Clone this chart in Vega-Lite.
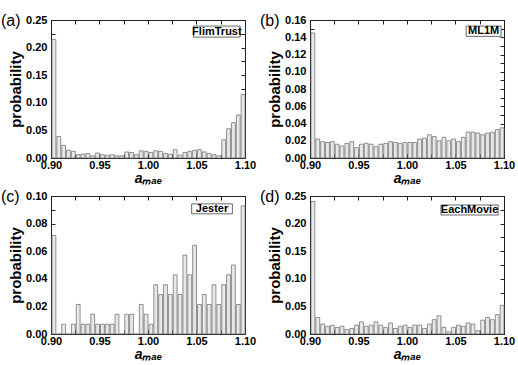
{
  "$schema": "https://vega.github.io/schema/vega-lite/v6.json",
  "padding": {"left": 0, "top": 12, "right": 0, "bottom": 0},
  "background": "white",
  "datasets": {
    "a": [
      {"x0":0.900,"x1":0.905,"p":0.215},{"x0":0.905,"x1":0.910,"p":0.039},{"x0":0.910,"x1":0.915,"p":0.023},{"x0":0.915,"x1":0.920,"p":0.014},
      {"x0":0.920,"x1":0.925,"p":0.012},{"x0":0.925,"x1":0.930,"p":0.006},{"x0":0.930,"x1":0.935,"p":0.007},{"x0":0.935,"x1":0.940,"p":0.008},
      {"x0":0.940,"x1":0.945,"p":0.004},{"x0":0.945,"x1":0.950,"p":0.009},{"x0":0.950,"x1":0.955,"p":0.006},{"x0":0.955,"x1":0.960,"p":0.005},
      {"x0":0.960,"x1":0.965,"p":0.006},{"x0":0.965,"x1":0.970,"p":0.004},{"x0":0.970,"x1":0.975,"p":0.004},{"x0":0.975,"x1":0.980,"p":0.011},
      {"x0":0.980,"x1":0.985,"p":0.010},{"x0":0.985,"x1":0.990,"p":0.006},{"x0":0.990,"x1":0.995,"p":0.013},{"x0":0.995,"x1":1.000,"p":0.012},
      {"x0":1.000,"x1":1.005,"p":0.010},{"x0":1.005,"x1":1.010,"p":0.013},{"x0":1.010,"x1":1.015,"p":0.012},{"x0":1.015,"x1":1.020,"p":0.008},
      {"x0":1.020,"x1":1.025,"p":0.007},{"x0":1.025,"x1":1.030,"p":0.015},{"x0":1.030,"x1":1.035,"p":0.005},{"x0":1.035,"x1":1.040,"p":0.010},
      {"x0":1.040,"x1":1.045,"p":0.012},{"x0":1.045,"x1":1.050,"p":0.014},{"x0":1.050,"x1":1.055,"p":0.015},{"x0":1.055,"x1":1.060,"p":0.011},
      {"x0":1.060,"x1":1.065,"p":0.008},{"x0":1.065,"x1":1.070,"p":0.006},{"x0":1.070,"x1":1.075,"p":0.004},{"x0":1.075,"x1":1.080,"p":0.033},
      {"x0":1.080,"x1":1.085,"p":0.053},{"x0":1.085,"x1":1.090,"p":0.064},{"x0":1.090,"x1":1.095,"p":0.078},{"x0":1.095,"x1":1.100,"p":0.115}
    ],
    "b": [
      {"x0":0.900,"x1":0.905,"p":0.145},{"x0":0.905,"x1":0.910,"p":0.022},{"x0":0.910,"x1":0.915,"p":0.019},{"x0":0.915,"x1":0.920,"p":0.018},
      {"x0":0.920,"x1":0.925,"p":0.019},{"x0":0.925,"x1":0.930,"p":0.016},{"x0":0.930,"x1":0.935,"p":0.014},{"x0":0.935,"x1":0.940,"p":0.017},
      {"x0":0.940,"x1":0.945,"p":0.019},{"x0":0.945,"x1":0.950,"p":0.012},{"x0":0.950,"x1":0.955,"p":0.016},{"x0":0.955,"x1":0.960,"p":0.017},
      {"x0":0.960,"x1":0.965,"p":0.016},{"x0":0.965,"x1":0.970,"p":0.013},{"x0":0.970,"x1":0.975,"p":0.016},{"x0":0.975,"x1":0.980,"p":0.017},
      {"x0":0.980,"x1":0.985,"p":0.019},{"x0":0.985,"x1":0.990,"p":0.018},{"x0":0.990,"x1":0.995,"p":0.017},{"x0":0.995,"x1":1.000,"p":0.018},
      {"x0":1.000,"x1":1.005,"p":0.018},{"x0":1.005,"x1":1.010,"p":0.018},{"x0":1.010,"x1":1.015,"p":0.022},{"x0":1.015,"x1":1.020,"p":0.023},
      {"x0":1.020,"x1":1.025,"p":0.027},{"x0":1.025,"x1":1.030,"p":0.025},{"x0":1.030,"x1":1.035,"p":0.020},{"x0":1.035,"x1":1.040,"p":0.024},
      {"x0":1.040,"x1":1.045,"p":0.020},{"x0":1.045,"x1":1.050,"p":0.022},{"x0":1.050,"x1":1.055,"p":0.019},{"x0":1.055,"x1":1.060,"p":0.024},
      {"x0":1.060,"x1":1.065,"p":0.030},{"x0":1.065,"x1":1.070,"p":0.030},{"x0":1.070,"x1":1.075,"p":0.029},{"x0":1.075,"x1":1.080,"p":0.027},
      {"x0":1.080,"x1":1.085,"p":0.029},{"x0":1.085,"x1":1.090,"p":0.030},{"x0":1.090,"x1":1.095,"p":0.033},{"x0":1.095,"x1":1.100,"p":0.035}
    ],
    "c": [
      {"x0":0.900,"x1":0.905,"p":0.0714},{"x0":0.905,"x1":0.910,"p":0.0},{"x0":0.910,"x1":0.915,"p":0.0071},{"x0":0.915,"x1":0.920,"p":0.0},
      {"x0":0.920,"x1":0.925,"p":0.0071},{"x0":0.925,"x1":0.930,"p":0.0214},{"x0":0.930,"x1":0.935,"p":0.0071},{"x0":0.935,"x1":0.940,"p":0.0071},
      {"x0":0.940,"x1":0.945,"p":0.0143},{"x0":0.945,"x1":0.950,"p":0.0071},{"x0":0.950,"x1":0.955,"p":0.0071},{"x0":0.955,"x1":0.960,"p":0.0071},
      {"x0":0.960,"x1":0.965,"p":0.0071},{"x0":0.965,"x1":0.970,"p":0.0143},{"x0":0.970,"x1":0.975,"p":0.0},{"x0":0.975,"x1":0.980,"p":0.0143},
      {"x0":0.980,"x1":0.985,"p":0.0143},{"x0":0.985,"x1":0.990,"p":0.0},{"x0":0.990,"x1":0.995,"p":0.0214},{"x0":0.995,"x1":1.000,"p":0.0143},
      {"x0":1.000,"x1":1.005,"p":0.0071},{"x0":1.005,"x1":1.010,"p":0.0357},{"x0":1.010,"x1":1.015,"p":0.0286},{"x0":1.015,"x1":1.020,"p":0.0357},
      {"x0":1.020,"x1":1.025,"p":0.0286},{"x0":1.025,"x1":1.030,"p":0.0429},{"x0":1.030,"x1":1.035,"p":0.0286},{"x0":1.035,"x1":1.040,"p":0.0571},
      {"x0":1.040,"x1":1.045,"p":0.0429},{"x0":1.045,"x1":1.050,"p":0.0643},{"x0":1.050,"x1":1.055,"p":0.0214},{"x0":1.055,"x1":1.060,"p":0.0286},
      {"x0":1.060,"x1":1.065,"p":0.0214},{"x0":1.065,"x1":1.070,"p":0.0357},{"x0":1.070,"x1":1.075,"p":0.0214},{"x0":1.075,"x1":1.080,"p":0.0357},
      {"x0":1.080,"x1":1.085,"p":0.0429},{"x0":1.085,"x1":1.090,"p":0.05},{"x0":1.090,"x1":1.095,"p":0.0214},{"x0":1.095,"x1":1.100,"p":0.0929}
    ],
    "d": [
      {"x0":0.900,"x1":0.905,"p":0.240},{"x0":0.905,"x1":0.910,"p":0.030},{"x0":0.910,"x1":0.915,"p":0.018},{"x0":0.915,"x1":0.920,"p":0.014},
      {"x0":0.920,"x1":0.925,"p":0.016},{"x0":0.925,"x1":0.930,"p":0.012},{"x0":0.930,"x1":0.935,"p":0.014},{"x0":0.935,"x1":0.940,"p":0.008},
      {"x0":0.940,"x1":0.945,"p":0.010},{"x0":0.945,"x1":0.950,"p":0.016},{"x0":0.950,"x1":0.955,"p":0.022},{"x0":0.955,"x1":0.960,"p":0.014},
      {"x0":0.960,"x1":0.965,"p":0.016},{"x0":0.965,"x1":0.970,"p":0.022},{"x0":0.970,"x1":0.975,"p":0.016},{"x0":0.975,"x1":0.980,"p":0.012},
      {"x0":0.980,"x1":0.985,"p":0.020},{"x0":0.985,"x1":0.990,"p":0.010},{"x0":0.990,"x1":0.995,"p":0.014},{"x0":0.995,"x1":1.000,"p":0.016},
      {"x0":1.000,"x1":1.005,"p":0.012},{"x0":1.005,"x1":1.010,"p":0.016},{"x0":1.010,"x1":1.015,"p":0.016},{"x0":1.015,"x1":1.020,"p":0.010},
      {"x0":1.020,"x1":1.025,"p":0.018},{"x0":1.025,"x1":1.030,"p":0.026},{"x0":1.030,"x1":1.035,"p":0.033},{"x0":1.035,"x1":1.040,"p":0.012},
      {"x0":1.040,"x1":1.045,"p":0.004},{"x0":1.045,"x1":1.050,"p":0.012},{"x0":1.050,"x1":1.055,"p":0.016},{"x0":1.055,"x1":1.060,"p":0.014},
      {"x0":1.060,"x1":1.065,"p":0.020},{"x0":1.065,"x1":1.070,"p":0.018},{"x0":1.070,"x1":1.075,"p":0.006},{"x0":1.075,"x1":1.080,"p":0.025},
      {"x0":1.080,"x1":1.085,"p":0.030},{"x0":1.085,"x1":1.090,"p":0.026},{"x0":1.090,"x1":1.095,"p":0.035},{"x0":1.095,"x1":1.100,"p":0.052}
    ]
  },
  "spacing": 2,
  "vconcat": [
    {"spacing": 2, "hconcat": [
      {
        "width": 194, "height": 138,
        "title": {"text": "(a)", "anchor": "start", "frame": "group", "dx": -50, "dy": 19},
        "resolve": {"axis": {"x": "independent", "y": "independent"}},
        "layer": [
          {"data": {"name": "a"}, "mark": {"type": "bar", "fill": "#e8e8e8", "stroke": "#666", "strokeWidth": 0.7},
           "encoding": {
             "x": {"field": "x0", "type": "quantitative", "bin": "binned", "scale": {"domain": [0.9, 1.1], "nice": false, "zero": false},
                   "axis": {"values": [0.9,0.925,0.95,0.975,1.0,1.025,1.05,1.075,1.1], "format": ".2f", "labelExpr": "(round(datum.value*1000)%50==0)?datum.label:''", "title": "aₘₐₑ"}},
             "x2": {"field": "x1"},
             "y": {"field": "p", "type": "quantitative", "scale": {"domain": [0, 0.25], "nice": false},
                   "axis": {"values": [0,0.025,0.05,0.075,0.1,0.125,0.15,0.175,0.2,0.225,0.25], "format": ".2f", "labelExpr": "(round(datum.value*1000)%50==0)?datum.label:''", "title": "probability"}}
           }},
          {"data": {"values": [{"label": "FlimTrust"}]}, "mark": {"type": "rect", "fill": "white", "stroke": "#444", "strokeWidth": 0.8},
           "encoding": {
             "x": {"datum": 1.047, "type": "quantitative", "axis": {"orient": "top", "labels": false, "title": null, "domain": false, "values": [0.9,0.925,0.95,0.975,1.0,1.025,1.05,1.075,1.1]}},
             "x2": {"datum": 1.095},
             "y": {"datum": 0.219, "type": "quantitative", "axis": {"orient": "right", "labels": false, "title": null, "domain": false, "values": [0,0.025,0.05,0.075,0.1,0.125,0.15,0.175,0.2,0.225,0.25]}},
             "y2": {"datum": 0.239}}},
          {"data": {"values": [{"label": "FlimTrust"}]}, "mark": {"type": "text", "fontWeight": "bold", "fontSize": 11, "font": "Liberation Sans", "color": "black"},
           "encoding": {"x": {"datum": 1.071, "type": "quantitative", "axis": null}, "y": {"datum": 0.229, "type": "quantitative", "axis": null}, "text": {"field": "label"}}}
        ]
      },
      {
        "width": 194, "height": 138,
        "title": {"text": "(b)", "anchor": "start", "frame": "group", "dx": -50, "dy": 19},
        "resolve": {"axis": {"x": "independent", "y": "independent"}},
        "layer": [
          {"data": {"name": "b"}, "mark": {"type": "bar", "fill": "#e8e8e8", "stroke": "#666", "strokeWidth": 0.7},
           "encoding": {
             "x": {"field": "x0", "type": "quantitative", "bin": "binned", "scale": {"domain": [0.9, 1.1], "nice": false, "zero": false},
                   "axis": {"values": [0.9,0.925,0.95,0.975,1.0,1.025,1.05,1.075,1.1], "format": ".2f", "labelExpr": "(round(datum.value*1000)%50==0)?datum.label:''", "title": "aₘₐₑ"}},
             "x2": {"field": "x1"},
             "y": {"field": "p", "type": "quantitative", "scale": {"domain": [0, 0.16], "nice": false},
                   "axis": {"values": [0,0.01,0.02,0.03,0.04,0.05,0.06,0.07,0.08,0.09,0.1,0.11,0.12,0.13,0.14,0.15,0.16], "format": ".2f", "labelExpr": "(round(datum.value*1000)%20==0)?datum.label:''", "title": "probability"}}
           }},
          {"data": {"values": [{"label": "ML1M"}]}, "mark": {"type": "rect", "fill": "white", "stroke": "#444", "strokeWidth": 0.8},
           "encoding": {
             "x": {"datum": 1.061, "type": "quantitative", "axis": {"orient": "top", "labels": false, "title": null, "domain": false, "values": [0.9,0.925,0.95,0.975,1.0,1.025,1.05,1.075,1.1]}},
             "x2": {"datum": 1.097},
             "y": {"datum": 0.141, "type": "quantitative", "axis": {"orient": "right", "labels": false, "title": null, "domain": false, "values": [0,0.01,0.02,0.03,0.04,0.05,0.06,0.07,0.08,0.09,0.1,0.11,0.12,0.13,0.14,0.15,0.16]}},
             "y2": {"datum": 0.153}}},
          {"data": {"values": [{"label": "ML1M"}]}, "mark": {"type": "text", "fontWeight": "bold", "fontSize": 11, "font": "Liberation Sans", "color": "black"},
           "encoding": {"x": {"datum": 1.079, "type": "quantitative", "axis": null}, "y": {"datum": 0.147, "type": "quantitative", "axis": null}, "text": {"field": "label"}}}
        ]
      }
    ]},
    {"spacing": 2, "hconcat": [
      {
        "width": 194, "height": 138,
        "title": {"text": "(c)", "anchor": "start", "frame": "group", "dx": -50, "dy": 19},
        "resolve": {"axis": {"x": "independent", "y": "independent"}},
        "layer": [
          {"data": {"name": "c"}, "mark": {"type": "bar", "fill": "#e8e8e8", "stroke": "#666", "strokeWidth": 0.7},
           "encoding": {
             "x": {"field": "x0", "type": "quantitative", "bin": "binned", "scale": {"domain": [0.9, 1.1], "nice": false, "zero": false},
                   "axis": {"values": [0.9,0.925,0.95,0.975,1.0,1.025,1.05,1.075,1.1], "format": ".2f", "labelExpr": "(round(datum.value*1000)%50==0)?datum.label:''", "title": "aₘₐₑ"}},
             "x2": {"field": "x1"},
             "y": {"field": "p", "type": "quantitative", "scale": {"domain": [0, 0.10], "nice": false},
                   "axis": {"values": [0,0.01,0.02,0.03,0.04,0.05,0.06,0.07,0.08,0.09,0.1], "format": ".2f", "labelExpr": "(round(datum.value*1000)%20==0)?datum.label:''", "title": "probability"}}
           }},
          {"data": {"values": [{"label": "Jester"}]}, "mark": {"type": "rect", "fill": "white", "stroke": "#444", "strokeWidth": 0.8},
           "encoding": {
             "x": {"datum": 1.045, "type": "quantitative", "axis": {"orient": "top", "labels": false, "title": null, "domain": false, "values": [0.9,0.925,0.95,0.975,1.0,1.025,1.05,1.075,1.1]}},
             "x2": {"datum": 1.087},
             "y": {"datum": 0.0871, "type": "quantitative", "axis": {"orient": "right", "labels": false, "title": null, "domain": false, "values": [0,0.01,0.02,0.03,0.04,0.05,0.06,0.07,0.08,0.09,0.1]}},
             "y2": {"datum": 0.0943}}},
          {"data": {"values": [{"label": "Jester"}]}, "mark": {"type": "text", "fontWeight": "bold", "fontSize": 11, "font": "Liberation Sans", "color": "black"},
           "encoding": {"x": {"datum": 1.066, "type": "quantitative", "axis": null}, "y": {"datum": 0.0907, "type": "quantitative", "axis": null}, "text": {"field": "label"}}}
        ]
      },
      {
        "width": 194, "height": 138,
        "title": {"text": "(d)", "anchor": "start", "frame": "group", "dx": -50, "dy": 19},
        "resolve": {"axis": {"x": "independent", "y": "independent"}},
        "layer": [
          {"data": {"name": "d"}, "mark": {"type": "bar", "fill": "#e8e8e8", "stroke": "#666", "strokeWidth": 0.7},
           "encoding": {
             "x": {"field": "x0", "type": "quantitative", "bin": "binned", "scale": {"domain": [0.9, 1.1], "nice": false, "zero": false},
                   "axis": {"values": [0.9,0.925,0.95,0.975,1.0,1.025,1.05,1.075,1.1], "format": ".2f", "labelExpr": "(round(datum.value*1000)%50==0)?datum.label:''", "title": "aₘₐₑ"}},
             "x2": {"field": "x1"},
             "y": {"field": "p", "type": "quantitative", "scale": {"domain": [0, 0.25], "nice": false},
                   "axis": {"values": [0,0.025,0.05,0.075,0.1,0.125,0.15,0.175,0.2,0.225,0.25], "format": ".2f", "labelExpr": "(round(datum.value*1000)%50==0)?datum.label:''", "title": "probability"}}
           }},
          {"data": {"values": [{"label": "EachMovie"}]}, "mark": {"type": "rect", "fill": "white", "stroke": "#444", "strokeWidth": 0.8},
           "encoding": {
             "x": {"datum": 1.035, "type": "quantitative", "axis": {"orient": "top", "labels": false, "title": null, "domain": false, "values": [0.9,0.925,0.95,0.975,1.0,1.025,1.05,1.075,1.1]}},
             "x2": {"datum": 1.094},
             "y": {"datum": 0.2156, "type": "quantitative", "axis": {"orient": "right", "labels": false, "title": null, "domain": false, "values": [0,0.025,0.05,0.075,0.1,0.125,0.15,0.175,0.2,0.225,0.25]}},
             "y2": {"datum": 0.2337}}},
          {"data": {"values": [{"label": "EachMovie"}]}, "mark": {"type": "text", "fontWeight": "bold", "fontSize": 11, "font": "Liberation Sans", "color": "black"},
           "encoding": {"x": {"datum": 1.0645, "type": "quantitative", "axis": null}, "y": {"datum": 0.2247, "type": "quantitative", "axis": null}, "text": {"field": "label"}}}
        ]
      }
    ]}
  ],
  "config": {
    "view": {"stroke": "#222", "strokeWidth": 1},
    "title": {"font": "Liberation Sans", "fontSize": 16, "fontWeight": "normal", "color": "black"},
    "axis": {
      "grid": false, "labelOverlap": false, "labelFlush": false, "labelBound": false,
      "labelFont": "Liberation Sans", "labelFontWeight": "bold", "labelFontSize": 11, "labelColor": "black",
      "titleFont": "Liberation Sans", "titleFontWeight": "bold", "titleFontSize": 15, "titleColor": "black",
      "domainColor": "#222", "tickColor": "#222", "tickSize": -4, "labelPadding": 8, "titlePadding": 2
    },
    "axisX": {"titleFontStyle": "italic", "titlePadding": 1, "labelPadding": 5, "titleFontSize": 14}
  }
}
